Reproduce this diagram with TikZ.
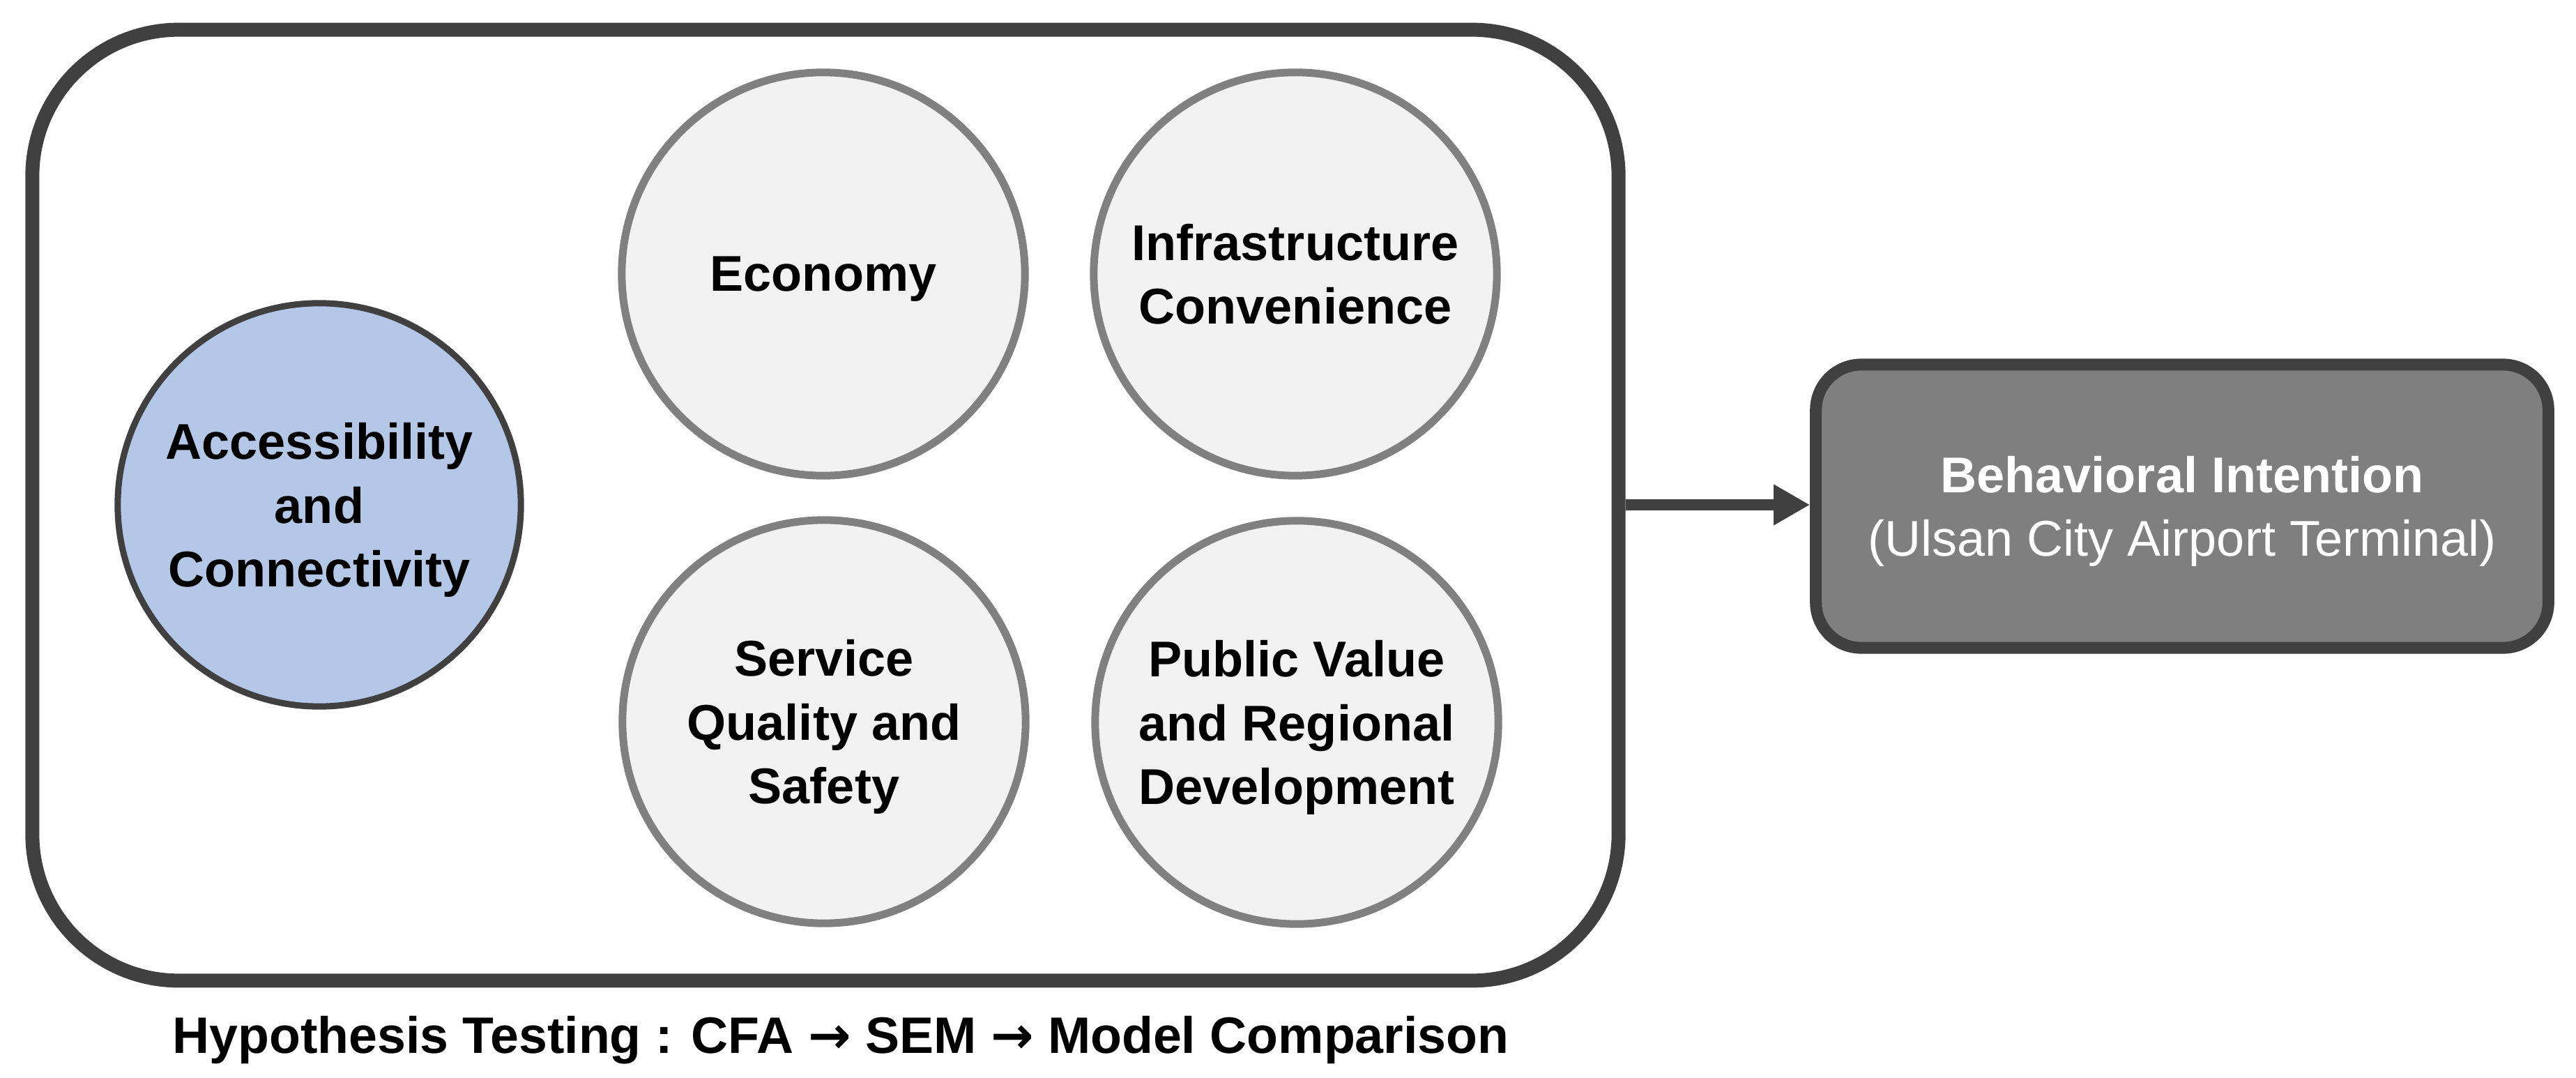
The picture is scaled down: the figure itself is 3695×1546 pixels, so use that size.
\documentclass[tikz,border=0pt]{standalone}
\usepackage{fontspec}
\setmainfont{Liberation Sans}
\newfontfamily\arrowfont{DejaVu Sans}
\usetikzlibrary{arrows.meta}
\definecolor{darkline}{HTML}{404040}
\definecolor{grayline}{HTML}{808080}
\definecolor{circfill}{HTML}{F2F2F2}
\definecolor{bluefill}{HTML}{B4C7E7}
\definecolor{boxfill}{HTML}{7F7F7F}
\newcommand{\ra}{{\arrowfont\bfseries →}}
\begin{document}
\begin{tikzpicture}[x=0.01cm,y=-0.01cm,
  factor/.style={circle, draw=grayline, fill=circfill, line width=0.11cm, minimum size=5.78cm, inner sep=0pt, align=center, text depth=0pt, font=\bfseries\fontsize{20.5pt}{26pt}\selectfont},
  keyfactor/.style={factor, draw=darkline, fill=bluefill, line width=0.09cm},
  frame/.style={draw=darkline, fill=white, line width=0.2cm, rounded corners=2.1cm, minimum width=22.74cm, minimum height=13.63cm, inner sep=0pt},
  outcome/.style={draw=darkline, fill=boxfill, line width=0.17cm, rounded corners=0.65cm, minimum width=10.5cm, minimum height=4.06cm, inner sep=0pt, align=center, text depth=0pt, text=white, font=\fontsize{20.5pt}{26pt}\selectfont},
  caption/.style={font=\bfseries\fontsize{20.9pt}{26pt}\selectfont, anchor=base},
  flow/.style={draw=darkline, line width=0.15cm, -{Triangle[length=0.52cm, width=0.55cm]}}
]
\useasboundingbox (0,0) rectangle (3695,1546);
\node[frame] (frame) at (1184,724.5) {};
\node[keyfactor] (access) at (458,724) {Accessibility\\and\\Connectivity};
\node[factor] (economy) at (1181,393) {Economy};
\node[factor] (infra) at (1858,393) {Infrastructure\\Convenience};
\node[factor] (service) at (1182,1035) {Service\\Quality and\\Safety};
\node[factor] (public) at (1860,1036) {Public Value\\and Regional\\Development};
\node[outcome] (bi) at (3130,726) {\textbf{Behavioral Intention}\\(Ulsan City Airport Terminal)};
\draw[flow] (frame.east |- 0,724) -- (bi.west |- 0,724);
\node[caption] (cap) at (1206,1510) {Hypothesis Testing : CFA \ra{} SEM \ra{} Model Comparison};
\end{tikzpicture}
\end{document}
